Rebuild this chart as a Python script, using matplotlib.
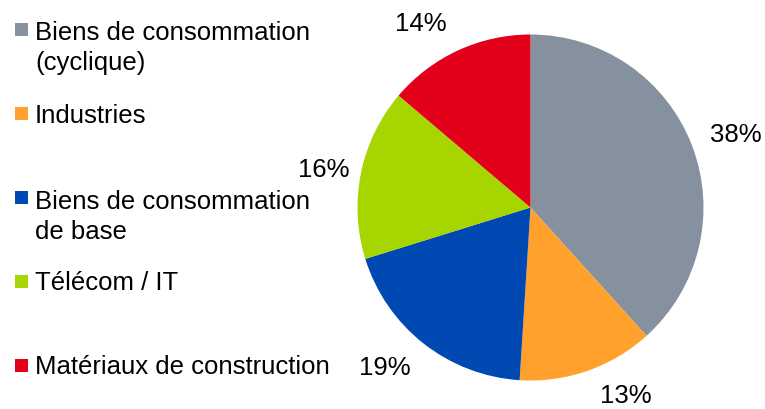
import matplotlib.pyplot as plt
import matplotlib.transforms as mtransforms
from matplotlib.patches import Rectangle

plt.rcParams['font.family'] = ['Liberation Sans', 'DejaVu Sans']

# sector weights (percent), read from the slice edges
labels = ['Biens de consommation\n(cyclique)', 'Industries',
          'Biens de consommation\nde base', 'Télécom / IT',
          'Matériaux de construction']
values = [38.3, 12.7, 19.2, 16.0, 13.8]
colors = ['#8691A0', '#FFA12C', '#0048B2', '#A6D500', '#E3001B']

W, H = 765, 409
fig = plt.figure(figsize=(W / 100, H / 100), dpi=100)

# pie axes, centre (530.5, 207.5) px, radius 173 px
cx, cy, r = 530.5, 207.5, 173
ax = fig.add_axes([(cx - r) / W, (H - cy - r) / H, 2 * r / W, 2 * r / H])
wedges, texts, autotexts = ax.pie(values, colors=colors, startangle=90,
                                  counterclock=False, radius=1,
                                  autopct='%.0f%%', pctdistance=1.24,
                                  textprops=dict(fontsize=18.5, color='#000000'),
                                  wedgeprops=dict(linewidth=0))
ax.set_xlim(-1, 1)
ax.set_ylim(-1, 1)
ax.set_aspect('auto')
ax.axis('off')

# small nudges (px) so the percentages sit where Excel put them
pct_nudge = [(5, -5), (25, 14), (-13, 8), (3, -5), (-20, -11)]
for t, (dx, dy) in zip(autotexts, pct_nudge):
    t.set_transform(ax.transData +
                    mtransforms.ScaledTranslation(dx / 100, dy / 100, fig.dpi_scale_trans))

# legend drawn by hand: marker squares beside the first line of each label
rows = [29, 113.5, 197.5, 281, 365]  # first-line centres, px from top
step = 32
for lab, col, yc in zip(labels, colors, rows):
    fig.patches.append(Rectangle((15 / W, (H - yc - 6.5) / H), 13 / W, 13 / H,
                                 facecolor=col, edgecolor='none',
                                 transform=fig.transFigure))
    nl = lab.count('\n')
    fig.text(35 / W, (H - yc - 9.3 - step * nl) / H, lab, fontsize=18.5,
             va='baseline', ha='left', linespacing=1.33, color='#000000')

fig.savefig('out.png', dpi=100, facecolor='white')
